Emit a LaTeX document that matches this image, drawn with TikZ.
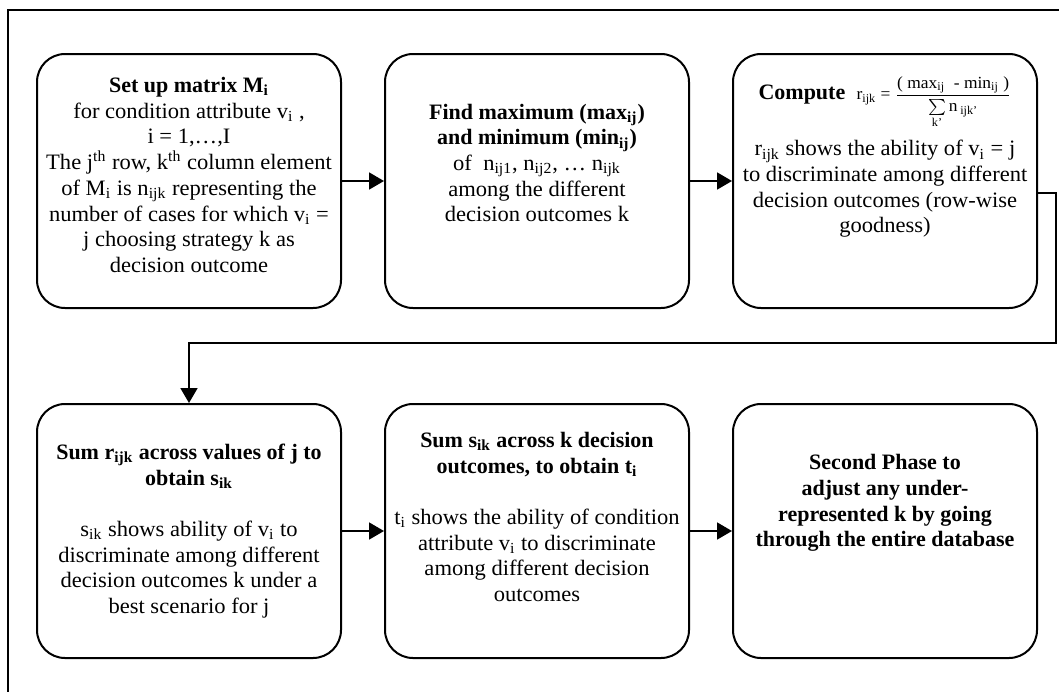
\documentclass[tikz,border=0pt]{standalone}
\usepackage{amsmath}
\usepackage{fontspec}
\setmainfont{Liberation Serif}[UprightFeatures={FakeStretch=1.025}]
\usetikzlibrary{positioning,arrows.meta}

\newcommand{\sub}[1]{\textsubscript{#1}}

\begin{document}
\begin{tikzpicture}[x=0.5pt,y=-0.5pt,
  stage/.style={draw,line width=1pt,rounded corners=14pt,minimum width=152pt,minimum height=127pt},
  words/.style={align=center,font=\fontsize{11}{12.85}\selectfont,inner sep=0pt},
  flow/.style={line width=0.9pt,-{Triangle[length=7.5pt,width=8.5pt]}},
  node distance=47pt and 21pt]
\clip (0,0) rectangle (1059,691);
\draw[line width=0.6pt] (8,10) rectangle (1080,720);
% the six stages
\node[stage] (setup) at (189,181) {};
\node[stage,right=of setup] (extrema) {};
\node[stage,right=of extrema] (compute) {};
\node[stage,below=of setup] (sumj) {};
\node[stage,right=of sumj] (sumk) {};
\node[stage,right=of sumk] (phase) {};
% their texts
\node[words,yshift=3pt] (setuptext) at (setup) {\textbf{Set up matrix M\sub{i}}\\
  for condition attribute v\sub{i} ,\\ i = 1,…,I\\
  The j\textsuperscript{th} row, k\textsuperscript{th} column element\\
  of M\sub{i} is n\sub{ijk} representing the\\ number of cases for which v\sub{i} =\\
  j choosing strategy k as\\ decision outcome};
\node[words,yshift=9pt] (extrematext) at (extrema) {\textbf{Find maximum (max\sub{ij})}\\
  \textbf{and minimum (min\sub{ij})}\\ of~ n\sub{ij1}, n\sub{ij2}, … n\sub{ijk}\\
  among the different\\ decision outcomes k};
\node[words,yshift=12pt] (computetext) at (compute) {\textbf{Compute}~~{\fontsize{8.5}{10}\selectfont
  r\sub{ijk} = $\dfrac{\text{( max\sub{ij}~~- min\sub{ij}~)}}{\sum\limits_{\text{k'}}\text{n\,\sub{ijk'}}}$}\\[5pt]
  r\sub{ijk} shows the ability of v\sub{i} = j\\ to discriminate among different\\
  decision outcomes (row-wise\\ goodness)};
\node[words] (sumjtext) at (sumj) {\textbf{Sum r\sub{ijk} across values of j to}\\ \textbf{obtain s\sub{ik}}\\[12.85pt]
  s\sub{ik} shows ability of v\sub{i} to\\ discriminate among different\\
  decision outcomes k under a\\ best scenario for j};
\node[words,yshift=7pt] (sumktext) at (sumk) {\textbf{Sum s\sub{ik} across k decision}\\ \textbf{outcomes, to obtain t\sub{i}}\\[12.85pt]
  t\sub{i} shows the ability of condition\\ attribute v\sub{i} to discriminate\\
  among different decision\\ outcomes};
\node[words,yshift=14pt] (phasetext) at (phase) {\textbf{Second Phase to}\\ \textbf{adjust any under-}\\
  \textbf{represented k by going}\\ \textbf{through the entire database}};
% connectors
\draw[flow] (setup) -- (extrema);
\draw[flow] (extrema) -- (compute);
\coordinate (turn) at ([xshift=9pt,yshift=-17pt]compute.south east);
\draw[flow] ([yshift=-6pt]compute.east) -| (turn) -| (sumj.north);
\draw[flow] (sumj) -- (sumk);
\draw[flow] (sumk) -- (phase);
\end{tikzpicture}
\end{document}
